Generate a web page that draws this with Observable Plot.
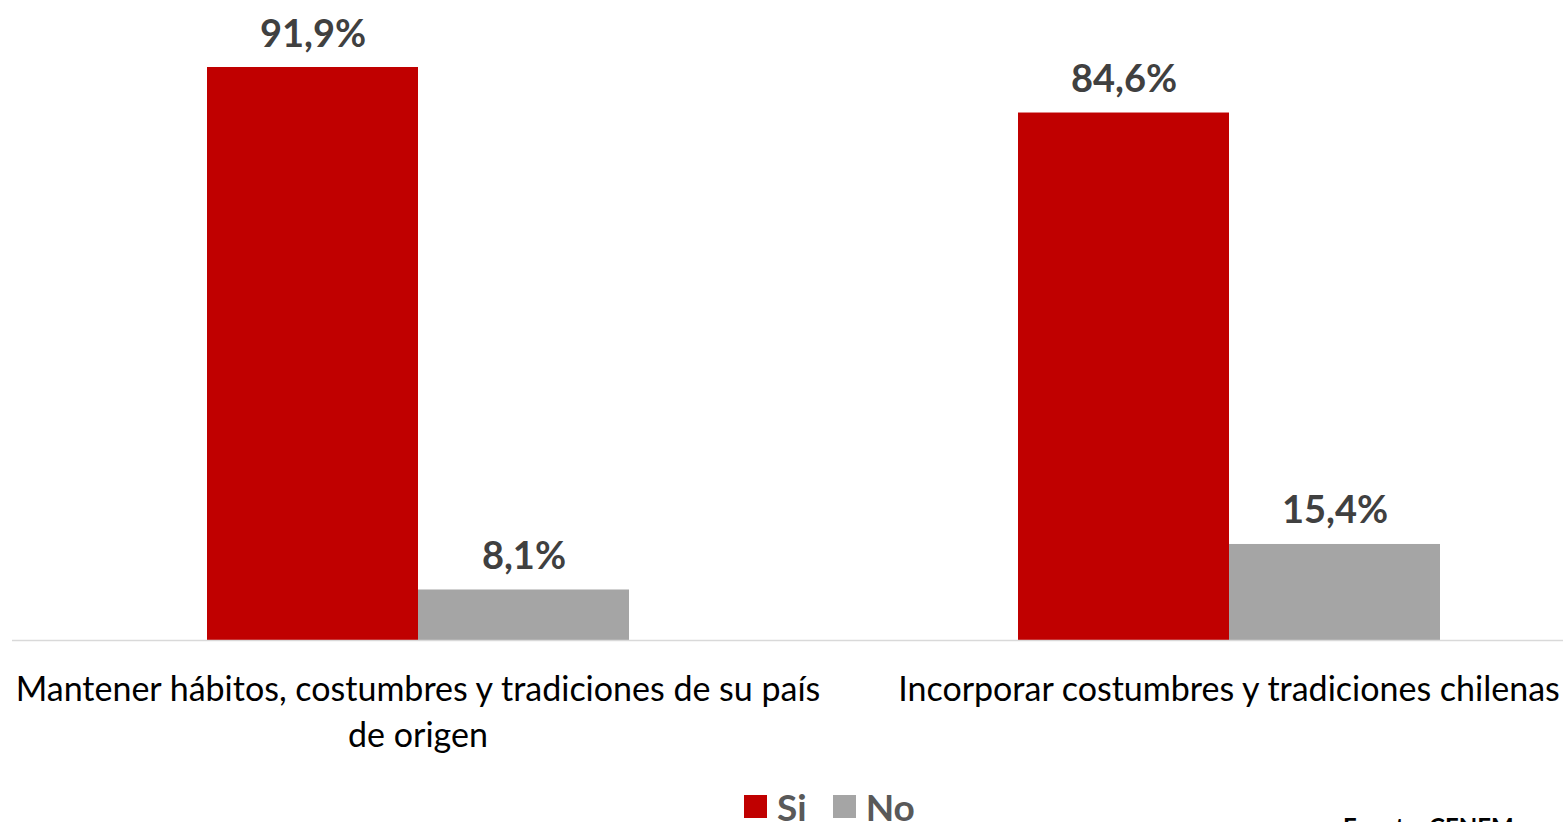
<!DOCTYPE html>
<html><head><meta charset="utf-8">
<script src="https://cdn.jsdelivr.net/npm/d3@7"></script>
<script src="https://cdn.jsdelivr.net/npm/@observablehq/plot@0.6"></script>
<style>
html,body{margin:0;padding:0;background:#fff;overflow:hidden;width:1563px;height:822px;}
#wrap{position:relative;width:1563px;height:822px;overflow:hidden;}
#chart svg{max-width:none !important;}
#legend{position:absolute;left:744px;top:784px;display:flex;align-items:center;font-family:Lato,"Open Sans",sans-serif;font-weight:bold;font-size:37px;color:#595959;}
#legend .sw{display:inline-block;width:23px;height:23px;margin-right:10px;}
#legend .it{display:flex;align-items:center;margin-right:26px;}
#caption{position:absolute;left:1343px;top:812px;font-family:Lato,"Open Sans",sans-serif;font-weight:bold;font-size:24px;color:#000;white-space:nowrap;}
</style></head>
<body><div id="wrap"><div id="chart"></div>
<div id="legend"></div><div id="caption">Fuente: CENEM</div></div>
<script>
const categories = ["Mantener hábitos, costumbres y tradiciones de su país\nde origen", "Incorporar costumbres y tradiciones chilenas"];
const series = ["Si", "No"];
const siValues = [91.9, 84.6];
const noValues = [8.1, 15.4];
const colors = ["#C00000", "#A5A5A5"];

const data = [];
categories.forEach((c, i) => {
  data.push({cat: c, serie: "Si", value: siValues[i]});
  data.push({cat: c, serie: "No", value: noValues[i]});
});
const fmt = v => v.toFixed(1).replace(".", ",") + "%";

const chart = Plot.plot({
  width: 1634,
  height: 780,
  marginLeft: 12,
  marginRight: 0,
  marginTop: 16.5,
  marginBottom: 140,
  fx: {domain: categories, padding: 0, label: null, axis: null},
  x: {domain: series, paddingInner: 0, paddingOuter: 0.913, axis: null},
  y: {domain: [0, 100], axis: null},
  color: {domain: series, range: colors},
  style: {fontFamily: "Lato, 'Open Sans', sans-serif", maxWidth: "none"},
  marks: [
    Plot.barY(data, {fx: "cat", x: "serie", y: "value", fill: "serie"}),
    Plot.ruleY([0], {stroke: "#d9d9d9", strokeWidth: 1.5}),
    Plot.text(data, {fx: "cat", x: "serie", y: "value", text: d => fmt(d.value), lineAnchor: "bottom", dy: -21, fontSize: 38, fontWeight: "bold", fill: "#404040"}),
    Plot.axisFx({anchor: "bottom", tickSize: 0, tickPadding: 28, fontSize: 34, lineHeight: 1.35, fill: "#000", label: null, lineWidth: Infinity})
  ]
});
document.getElementById("chart").appendChild(chart);

const lg = document.getElementById("legend");
series.forEach((s, i) => {
  const it = document.createElement("span");
  it.className = "it";
  const sw = document.createElement("span");
  sw.className = "sw";
  sw.style.background = colors[i];
  it.appendChild(sw);
  it.appendChild(document.createTextNode(s));
  lg.appendChild(it);
});
</script></body></html>
